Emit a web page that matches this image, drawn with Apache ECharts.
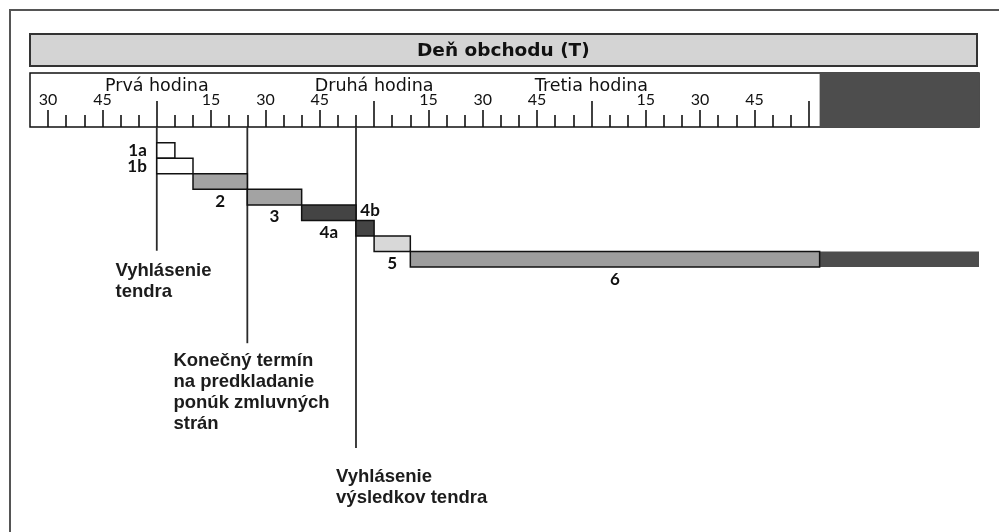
<!DOCTYPE html>
<html><head><meta charset="utf-8">
<script src="https://cdn.jsdelivr.net/npm/echarts@6/dist/echarts.min.js"></script>
<style>html,body{margin:0;padding:0;background:#fff}#c{width:999px;height:532px}</style>
</head><body><div id="c"></div>
<script>
// ---- data (minutes relative to the start of the first trading hour) ----
const chartTitle = 'Deň obchodu (T)';
const steps = ['1a', '1b', '2', '3', '4a', '4b', '5', '6'];
const stepStart = [0, 0, 10, 25, 40, 55, 60, 70];
const stepEnd = [5, 10, 25, 40, 55, 60, 70, 183];
const offHoursStart = 183;
const offHoursEnd = 227;
const axisMin = -35;
const axisMax = 227;
const hourTicks = [0, 60, 120, 180];
const hourLabelValues = [0, 60, 120];
const hourNames = ['Prvá hodina', 'Druhá hodina', 'Tretia hodina'];
const quarterTicks = [-30, -15, 15, 30, 45, 75, 90, 105, 135, 150, 165];
const minorTicks = [-25, -20, -10, -5, 5, 10, 20, 25, 35, 40, 50, 55, 65, 70, 80, 85, 95, 100, 110, 115, 125, 130, 140, 145, 155, 160, 170, 175];
const milestoneMin = [0, 25, 55];
const milestoneEndRow = [6.95, 12.9, 19.65];
const milestoneText = ['Vyhlásenie\ntendra', 'Konečný termín\nna predkladanie\nponúk zmluvných\nstrán', 'Vyhlásenie\nvýsledkov tendra'];
const milestoneTextMin = [-11.4, 4.6, 49.5];
const milestoneTextRow = [7.6, 13.35, 20.85];

// ---- styles ----
const stepFill = { '1a': '#ffffff', '1b': '#ffffff', '2': '#a3a3a3', '3': '#a3a3a3', '4a': '#444444', '4b': '#444444', '5': '#d8d8d8', '6': '#9d9d9d' };
const stepLabelSide = { '1a': 'left', '1b': 'left', '4b': 'top' };
const darkFill = '#4d4d4d';
const ink = '#111111';

function quarterLabel(v) { return String(((v % 60) + 60) % 60); }

const chart = echarts.init(document.getElementById('c'), null, { renderer: 'canvas' });
const option = {
  animation: false,
  backgroundColor: '#ffffff',
  title: {
    text: chartTitle, left: 417, top: 41, padding: 0,
    textStyle: { fontFamily: 'DejaVu Sans', fontWeight: 'bold', fontSize: 18.5, lineHeight: 20, color: ink }
  },
  graphic: [{
    type: 'rect', silent: true, z: -10,
    shape: { x: 10, y: 10, width: 1000, height: 540 },
    style: { fill: 'none', stroke: '#555555', lineWidth: 2 }
  }],
  grid: [
    { left: 30, right: 20, top: 73, height: 54, show: true, backgroundColor: '#ffffff', borderColor: ink, borderWidth: 1.5 },
    { left: 30, right: 20, top: 127.2, height: 388.5, show: false },
    { left: 30, right: 22, top: 34, height: 32, show: true, backgroundColor: '#d4d4d4', borderColor: '#333333', borderWidth: 2 }
  ],
  xAxis: [
    { type: 'value', gridIndex: 0, min: axisMin, max: axisMax, position: 'bottom',
      axisLine: { show: false }, splitLine: { show: false },
      axisTick: { show: true, inside: true, length: 12, customValues: minorTicks, lineStyle: { color: ink, width: 1.6 } },
      axisLabel: { show: false } },
    { type: 'value', gridIndex: 0, min: axisMin, max: axisMax, position: 'bottom',
      axisLine: { show: false }, splitLine: { show: false },
      axisTick: { show: true, inside: true, length: 17, customValues: quarterTicks, lineStyle: { color: ink, width: 1.6 } },
      axisLabel: { show: true, inside: true, margin: 19.5, customValues: quarterTicks, formatter: quarterLabel,
        fontFamily: 'Lato', fontSize: 16, color: ink } },
    { type: 'value', gridIndex: 0, min: axisMin, max: axisMax, position: 'bottom',
      axisLine: { show: false }, splitLine: { show: false },
      axisTick: { show: true, inside: true, length: 26, customValues: hourTicks, lineStyle: { color: ink, width: 1.6 } },
      axisLabel: { show: true, inside: true, margin: 32, customValues: hourLabelValues,
        formatter: function (v) { return hourNames[hourLabelValues.indexOf(v)]; },
        fontFamily: 'DejaVu Sans', fontSize: 17.5, color: ink } },
    { type: 'value', gridIndex: 1, min: axisMin, max: axisMax, show: false, splitLine: { show: false } },
    { type: 'value', gridIndex: 2, min: 0, max: 1, show: false, splitLine: { show: false } }
  ],
  yAxis: [
    { type: 'value', gridIndex: 0, min: 0, max: 1, show: false, splitLine: { show: false } },
    { type: 'value', gridIndex: 1, min: -1, max: 24, inverse: true, show: false, splitLine: { show: false } },
    { type: 'value', gridIndex: 2, min: 0, max: 1, show: false, splitLine: { show: false } }
  ],
  series: [
    // dark block at the end of the ruler
    { type: 'custom', xAxisIndex: 0, yAxisIndex: 0, z: 4, silent: true,
      data: [[offHoursStart, offHoursEnd]],
      renderItem: function (params, api) {
        const a = api.coord([api.value(0), 1]);
        const b = api.coord([api.value(1), 0]);
        return { type: 'rect', shape: { x: a[0], y: a[1], width: b[0] - a[0], height: b[1] - a[1] }, style: { fill: darkFill } };
      } },
    // milestone lines and their captions
    { type: 'custom', xAxisIndex: 3, yAxisIndex: 1, z: 3, silent: true,
      data: milestoneMin.map(function (t, i) { return [t, milestoneEndRow[i], milestoneTextMin[i], milestoneTextRow[i]]; }),
      renderItem: function (params, api) {
        const i = params.dataIndex;
        const top = api.coord([api.value(0), -1]);
        const bot = api.coord([api.value(0), api.value(1)]);
        const tp = api.coord([api.value(2), api.value(3)]);
        return { type: 'group', children: [
          { type: 'line', shape: { x1: top[0], y1: top[1], x2: bot[0], y2: bot[1] }, style: { stroke: '#2a2a2a', lineWidth: 1.8 } },
          { type: 'text', style: { text: milestoneText[i], x: tp[0], y: tp[1], align: 'left', verticalAlign: 'top',
              fontFamily: 'Liberation Sans, Arial, sans-serif', fontWeight: 'bold', fontSize: 18.5, lineHeight: 21, fill: '#1c1c1c' } }
        ] };
      } },
    // dark continuation of step 6
    { type: 'custom', xAxisIndex: 3, yAxisIndex: 1, z: 4, silent: true,
      data: [[offHoursStart, offHoursEnd, steps.indexOf('6')]],
      renderItem: function (params, api) {
        const a = api.coord([api.value(0), api.value(2)]);
        const b = api.coord([api.value(1), api.value(2) + 1]);
        return { type: 'rect', shape: { x: a[0], y: a[1], width: b[0] - a[0], height: b[1] - a[1] }, style: { fill: darkFill } };
      } },
    // steps
    { type: 'custom', xAxisIndex: 3, yAxisIndex: 1, z: 5, silent: true,
      data: steps.map(function (s, i) { return [stepStart[i], stepEnd[i], i]; }),
      renderItem: function (params, api) {
        const s = steps[params.dataIndex];
        const a = api.coord([api.value(0), api.value(2)]);
        const b = api.coord([api.value(1), api.value(2) + 1]);
        const r = { x: a[0], y: a[1], width: b[0] - a[0], height: b[1] - a[1] };
        const side = stepLabelSide[s] || 'bottom';
        let tx, ty, align = 'center';
        if (side === 'left') { tx = r.x - 10; ty = r.y + r.height / 2; align = 'right'; }
        else if (side === 'top') { tx = r.x + r.width / 2 + 5; ty = r.y - 9.5; }
        else { tx = r.x + r.width / 2; ty = r.y + r.height + 12; }
        return { type: 'group', children: [
          { type: 'rect', shape: r, style: { fill: stepFill[s], stroke: ink, lineWidth: 1.5 } },
          { type: 'text', style: { text: s, x: tx, y: ty, align: align, verticalAlign: 'middle',
              fontFamily: 'Lato', fontWeight: 'bold', fontSize: 17, fill: ink } }
        ] };
      } }
  ]
};
chart.setOption(option);
</script>
</body></html>
